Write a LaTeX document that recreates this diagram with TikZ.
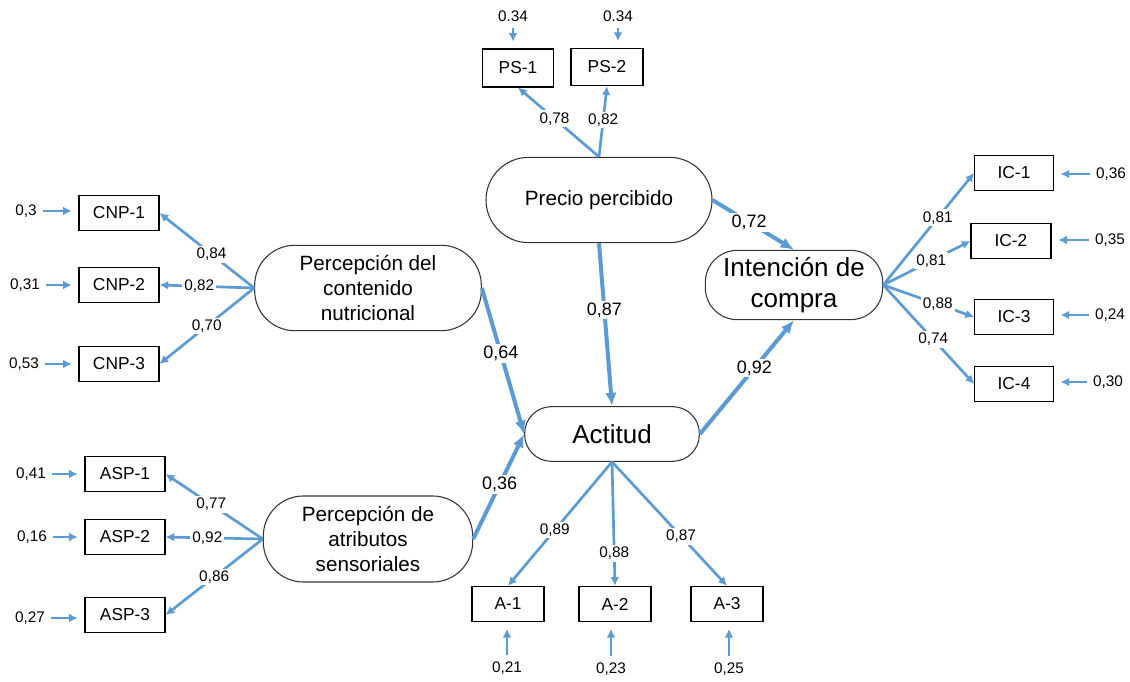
\documentclass[tikz,border=0pt]{standalone}
\usepackage{fontspec}
\setmainfont{Liberation Sans}
\usetikzlibrary{arrows.meta}
\definecolor{semblue}{HTML}{5B9BD5}
\tikzstyle{obs} = [rectangle, draw=black, line width=0.8pt, minimum width=60pt, minimum height=26.5pt, inner sep=0pt, font=\fontsize{13}{15}\selectfont]
\tikzstyle{lat} = [rectangle, draw=black!80, line width=0.8pt, rounded corners=30pt, align=center, inner sep=0pt, font=\fontsize{15.5}{18.5}\selectfont]
\tikzstyle{latbig} = [lat, rounded corners=20pt, font=\fontsize{19.5}{23.5}\selectfont]
\tikzstyle{num} = [font=\fontsize{11.5}{13}\selectfont, inner sep=1.5pt]
\tikzstyle{coef} = [num, fill=white]
\tikzstyle{coefbig} = [coef, font=\fontsize{13.5}{15}\selectfont]
\tikzstyle{load} = [draw=semblue, line width=2pt, -{Latex[length=6.5pt,width=6.5pt]}]
\tikzstyle{struct} = [draw=semblue, line width=3pt, -{Latex[length=10pt,width=8.5pt]}]
\tikzstyle{err} = [load, line width=2.2pt, shorten <=3pt, shorten >=5pt]

\begin{document}
\begin{tikzpicture}[x=0.75pt, y=-0.75pt]
\fill[white] (0,0) rectangle (1130,681);
\useasboundingbox (0,0) rectangle (1130,681);
% latent variables
\node[lat, minimum width=169.5pt, minimum height=64pt, rounded corners=32pt] (pp) at (599,200) {Precio percibido};
\node[lat, minimum width=170pt, minimum height=64pt] (pcn) at (368,288) {Percepción del\\contenido\\nutricional};
\node[lat, minimum width=157pt, minimum height=64.5pt] (pas) at (368,539) {Percepción de\\atributos\\sensoriales};
\node[latbig, minimum width=133pt, minimum height=52pt, rounded corners=24pt] (ic) at (794,285) {Intención de\\compra};
\node[latbig, minimum width=131pt, minimum height=41pt] (act) at (612,434) {Actitud};
% indicators
\node[obs, minimum width=53pt, minimum height=28.5pt] (ps1) at (518,68) {PS-1};
\node[obs, minimum width=54pt, minimum height=28pt] (ps2) at (607,67) {PS-2};
\node[obs] (cnp1) at (119,213) {CNP-1};
\node[obs] (cnp2) at (119,285) {CNP-2};
\node[obs] (cnp3) at (119,364) {CNP-3};
\node[obs] (asp1) at (125,474) {ASP-1};
\node[obs] (asp2) at (125,537) {ASP-2};
\node[obs] (asp3) at (125,615) {ASP-3};
\node[obs, minimum width=54pt] (a1) at (508,604) {A-1};
\node[obs, minimum width=54pt] (a2) at (615,604) {A-2};
\node[obs, minimum width=54pt] (a3) at (727,604) {A-3};
\node[obs, minimum width=59pt] (ic1) at (1014,173) {IC-1};
\node[obs, minimum width=60pt] (ic2) at (1011,241) {IC-2};
\node[obs, minimum width=59pt] (ic3) at (1014,317) {IC-3};
\node[obs, minimum width=59pt] (ic4) at (1014,384) {IC-4};
% error terms
\node[num] (eps1) at (513,16) {0.34};
\node[num] (eps2) at (618,16) {0.34};
\node[num] (ecnp1) at (26,211) {0,3};
\node[num] (ecnp2) at (25,285) {0,31};
\node[num] (ecnp3) at (24,364) {0,53};
\node[num] (easp1) at (31,474) {0,41};
\node[num] (easp2) at (32,537) {0,16};
\node[num] (easp3) at (30,618) {0,27};
\node[num] (ea1) at (507,668) {0,21};
\node[num] (ea2) at (611,669) {0,23};
\node[num] (ea3) at (729,669) {0,25};
\node[num] (eic1) at (1111,174) {0,36};
\node[num] (eic2) at (1110,240) {0,35};
\node[num] (eic3) at (1110,315) {0,24};
\node[num] (eic4) at (1108,382) {0,30};
\draw[err] (eps1) -- (eps1 |- ps1.north);
\draw[err] (eps2) -- (eps2 |- ps2.north);
\draw[err] (ecnp1) -- (ecnp1 -| cnp1.west);
\draw[err] (ecnp2) -- (ecnp2 -| cnp2.west);
\draw[err] (ecnp3) -- (ecnp3 -| cnp3.west);
\draw[err] (easp1) -- (easp1 -| asp1.west);
\draw[err] (easp2) -- (easp2 -| asp2.west);
\draw[err] (easp3) -- (easp3 -| asp3.west);
\draw[err] (ea1) -- (ea1 |- a1.south);
\draw[err] (ea2) -- (ea2 |- a2.south);
\draw[err] (ea3) -- (ea3 |- a3.south);
\draw[err] (eic1) -- (eic1 -| ic1.east);
\draw[err] (eic2) -- (eic2 -| ic2.east);
\draw[err] (eic3) -- (eic3 -| ic3.east);
\draw[err] (eic4) -- (eic4 -| ic4.east);
% loadings
\draw[load] (pp.north) -- (ps1.south) node[coef, pos=.55] {0,78};
\draw[load] (pp.north) -- (ps2.south) node[coef, pos=.52] {0,82};
\draw[load] (pcn.west) -- (cnp1.east) node[coef, pos=.45] {0,84};
\draw[load] (pcn.west) -- (cnp2.east) node[coef, pos=.58] {0,82};
\draw[load] (pcn.west) -- (cnp3.east) node[coef, pos=.5] {0,70};
\draw[load] (pas.west) -- (asp1.east) node[coef, pos=.53] {0,77};
\draw[load] (pas.west) -- (asp2.east) node[coef, pos=.57] {0,92};
\draw[load] (pas.west) -- (asp3.east) node[coef, pos=.5] {0,86};
\draw[load] (act.south) -- (a1.north) node[coef, pos=.55] {0,89};
\draw[load] (act.south) -- (a2.north) node[coef, pos=.74] {0,88};
\draw[load] (act.south) -- (a3.north) node[coef, pos=.6] {0,87};
\draw[load] (ic.east) -- (ic1.west) node[coef, pos=.6] {0,81};
\draw[load] (ic.east) -- (ic2.west) node[coef, pos=.55] {0,81};
\draw[load] (ic.east) -- (ic3.west) node[coef, pos=.6] {0,88};
\draw[load] (ic.east) -- (ic4.west) node[coef, pos=.55] {0,74};
% structural paths
\draw[struct] (pcn.east) -- (act.west) node[coefbig, pos=.45] {0,64};
\draw[struct] (pas.east) -- (act.west) node[coefbig, pos=.52] {0,36};
\draw[struct] (pp.south) -- (act.north) node[coefbig, pos=.41] {0,87};
\draw[struct] (pp.east) -- (ic.north) node[coefbig, pos=.45] {0,72};
\draw[struct] (act.east) -- (ic.south) node[coefbig, pos=.58] {0,92};
\end{tikzpicture}
\end{document}
